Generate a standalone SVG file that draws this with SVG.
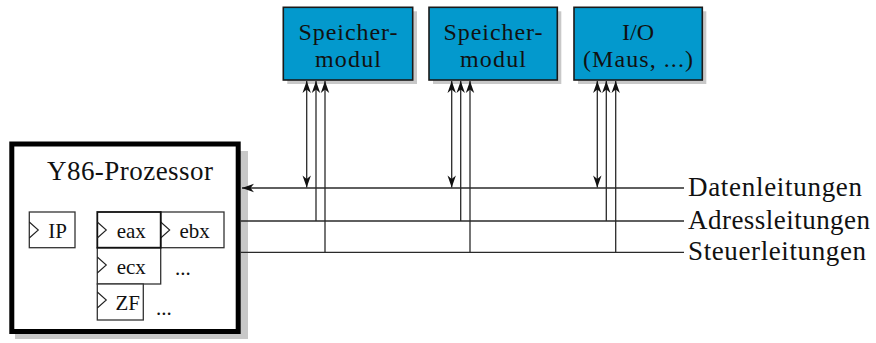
<svg xmlns="http://www.w3.org/2000/svg" width="876" height="343" viewBox="0 0 876 343">
<style>
text{font-family:"Liberation Serif","Times New Roman",serif;fill:#111}
.big{font-size:27px}
.mt{font-size:24px}
.reg{font-size:21px}
.mod{fill:#0399CD;stroke:#1a1a1a;stroke-width:1.6}
.shadow{fill:#c8c8c8}
.rbox{fill:#fff;stroke:#333;stroke-width:1.3}
.clk{fill:none;stroke:#222;stroke-width:1.1}
.bus{fill:none;stroke:#2a2a2a;stroke-width:1.3}
</style>
<defs>
<marker id="ah" viewBox="-13 -5 14 10" refX="0" refY="0" markerWidth="14" markerHeight="10" markerUnits="userSpaceOnUse" orient="auto-start-reverse">
<path d="M0,0 L-12,-4.2 L-8.5,0 L-12,4.2 Z" fill="#111"/>
</marker>
</defs>

<g id="processor">
<rect class="shadow" x="15" y="151" width="233" height="188"/>
<rect x="11.8" y="144" width="226.4" height="187.5" fill="#fff" stroke="#000" stroke-width="5"/>
<text class="big" x="130" y="180" text-anchor="middle" textLength="166" lengthAdjust="spacing">Y86-Prozessor</text>
</g>

<g id="reg-ip">
<rect class="rbox" x="29.3" y="212" width="45.7" height="35.7"/>
<path class="clk" d="M29.3,222 L38.3,230 L29.3,238"/>
<text class="reg" x="48.3" y="238">IP</text>
</g>
<g id="reg-ebx">
<rect class="rbox" x="160.7" y="212" width="63.3" height="35.7"/>
<path class="clk" d="M160.7,222 L169.7,230 L160.7,238"/>
<text class="reg" x="179.5" y="238">ebx</text>
</g>
<g id="reg-ecx">
<rect class="rbox" x="97.3" y="247.7" width="63.4" height="36.3"/>
<path class="clk" d="M97.3,257 L106.3,265 L97.3,273"/>
<text class="reg" x="116.7" y="274">ecx</text>
<text class="reg" x="175" y="275" font-size="18">...</text>
</g>
<g id="reg-zf">
<rect class="rbox" x="97.3" y="284" width="46" height="36"/>
<path class="clk" d="M97.3,292 L106.3,300 L97.3,308"/>
<text class="reg" x="115.5" y="310">ZF</text>
<text class="reg" x="156" y="315" font-size="18">...</text>
</g>
<g id="reg-eax">
<rect class="rbox" x="97.3" y="212" width="63.4" height="35.7" style="stroke:#111;stroke-width:1.8"/>
<path class="clk" d="M97.3,222 L106.3,230 L97.3,238"/>
<text class="reg" x="116.7" y="238">eax</text>
</g>

<g id="mod1">
<rect class="shadow" x="287.3" y="11.3" width="129.7" height="72.7"/>
<rect class="mod" x="283.3" y="7.3" width="129.4" height="72.7"/>
<text class="mt" x="348" y="40" text-anchor="middle" textLength="99" lengthAdjust="spacing">Speicher-</text>
<text class="mt" x="348" y="67" text-anchor="middle" textLength="66" lengthAdjust="spacing">modul</text>
</g>
<g id="mod2">
<rect class="shadow" x="433" y="11.3" width="128.3" height="72.7"/>
<rect class="mod" x="429" y="7.3" width="128.3" height="72.7"/>
<text class="mt" x="493" y="40" text-anchor="middle" textLength="99" lengthAdjust="spacing">Speicher-</text>
<text class="mt" x="493" y="67" text-anchor="middle" textLength="66" lengthAdjust="spacing">modul</text>
</g>
<g id="io">
<rect class="shadow" x="578" y="11.3" width="128.3" height="72.7"/>
<rect class="mod" x="574" y="7.3" width="128.3" height="72.7"/>
<text class="mt" x="638" y="40" text-anchor="middle">I/O</text>
<text class="mt" x="638" y="67" text-anchor="middle" textLength="110" lengthAdjust="spacing">(Maus, ...)</text>
</g>

<g id="connectors">
<line class="bus" x1="684" y1="188" x2="242" y2="188" marker-end="url(#ah)"/>
<line class="bus" x1="240.7" y1="221" x2="684" y2="221"/>
<line class="bus" x1="240.7" y1="252.3" x2="684" y2="252.3"/>

<line class="bus" x1="306.7" y1="81" x2="306.7" y2="187.5" marker-start="url(#ah)" marker-end="url(#ah)"/>
<line class="bus" x1="316" y1="221" x2="316" y2="81" marker-end="url(#ah)"/>
<line class="bus" x1="325" y1="252.3" x2="325" y2="81" marker-end="url(#ah)"/>

<line class="bus" x1="451.7" y1="81" x2="451.7" y2="187.5" marker-start="url(#ah)" marker-end="url(#ah)"/>
<line class="bus" x1="460.7" y1="221" x2="460.7" y2="81" marker-end="url(#ah)"/>
<line class="bus" x1="470" y1="252.3" x2="470" y2="81" marker-end="url(#ah)"/>

<line class="bus" x1="597.3" y1="81" x2="597.3" y2="187.5" marker-start="url(#ah)" marker-end="url(#ah)"/>
<line class="bus" x1="606.3" y1="221" x2="606.3" y2="81" marker-end="url(#ah)"/>
<line class="bus" x1="615.7" y1="252.3" x2="615.7" y2="81" marker-end="url(#ah)"/>
</g>

<g id="bus-labels">
<text class="big" x="688" y="195.5" textLength="174" lengthAdjust="spacing">Datenleitungen</text>
<text class="big" x="688" y="228.5" textLength="182" lengthAdjust="spacing">Adressleitungen</text>
<text class="big" x="688" y="259.5" textLength="178" lengthAdjust="spacing">Steuerleitungen</text>
</g>
</svg>
